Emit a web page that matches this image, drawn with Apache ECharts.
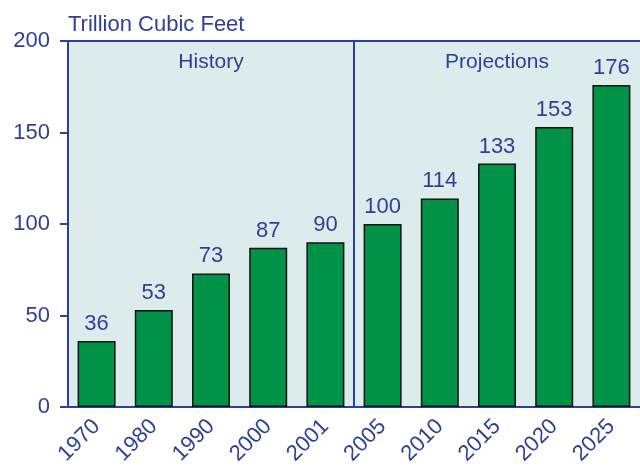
<!DOCTYPE html>
<html><head><meta charset="utf-8">
<script src="https://cdn.jsdelivr.net/npm/echarts@6/dist/echarts.min.js"></script>
<style>html,body{margin:0;padding:0;background:#fff}#c{width:640px;height:470px}</style>
</head><body><div id="c"></div>
<script>
const categories = ['1970','1980','1990','2000','2001','2005','2010','2015','2020','2025'];
const values = [36, 53, 73, 87, 90, 100, 114, 133, 153, 176];
const yTicks = [0, 50, 100, 150, 200];
const periodLabels = ['History', 'Projections'];
const historyCount = 5;

const BLUE = '#2e3f98';
const FONT = 'Liberation Sans, Arial, sans-serif';
const chart = echarts.init(document.getElementById('c'));
chart.setOption({
  animation: false,
  textStyle: { fontFamily: FONT },
  title: { text: 'Trillion Cubic Feet', left: 63, top: 9,
    textStyle: { color: BLUE, fontSize: 22, fontWeight: 'normal', fontFamily: FONT } },
  grid: { left: 68, right: 0, top: 41, bottom: 63, show: true, backgroundColor: '#dcecec', borderWidth: 0 },
  xAxis: [{
    type: 'category', data: categories,
    axisLine: { lineStyle: { color: BLUE, width: 2 } },
    axisTick: { alignWithLabel: true, length: 7, lineStyle: { color: BLUE, width: 2 } },
    axisLabel: { rotate: 45, color: BLUE, fontSize: 22, margin: 16 }
  }, {
    type: 'value', position: 'top', min: 0, max: categories.length,
    axisLine: { show: true, onZero: false, lineStyle: { color: BLUE, width: 2 } },
    axisTick: { show: false }, axisLabel: { show: false }, splitLine: { show: false }
  }],
  yAxis: {
    type: 'value', min: yTicks[0], max: yTicks[yTicks.length - 1], interval: 50,
    axisLine: { show: true, lineStyle: { color: BLUE, width: 2 } },
    axisTick: { show: true, length: 8, lineStyle: { color: BLUE, width: 2 } },
    axisLabel: { color: BLUE, fontSize: 22, margin: 18 },
    splitLine: { show: false }
  },
  series: [{
    type: 'bar', data: values, barWidth: 38,
    itemStyle: { color: '#009246', borderColor: '#111', borderWidth: 1.5 },
    label: { show: true, position: 'top', distance: 6, color: BLUE, fontSize: 22 }
  }, {
    type: 'line', xAxisIndex: 1, data: [], silent: true,
    markLine: { symbol: 'none', silent: true, label: { show: false },
      lineStyle: { color: BLUE, width: 2, type: 'solid' },
      data: [{ xAxis: historyCount }] },
    markArea: { silent: true, itemStyle: { color: 'rgba(0,0,0,0)' },
      label: { position: 'insideTop', distance: 11, color: BLUE, fontSize: 21 },
      data: [
        [{ xAxis: 0, name: periodLabels[0] }, { xAxis: historyCount }],
        [{ xAxis: historyCount, name: periodLabels[1] }, { xAxis: categories.length }]
      ] }
  }]
});
</script></body></html>
